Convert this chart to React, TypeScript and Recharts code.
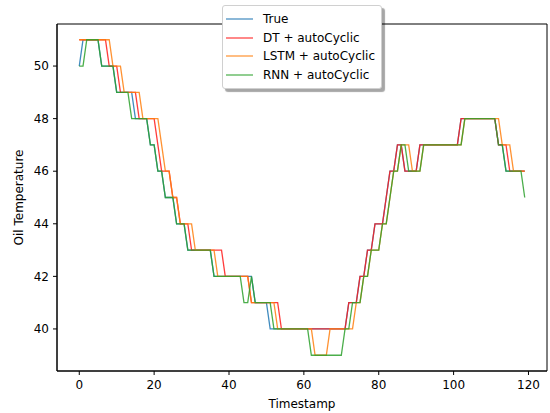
import React from "react";
import { LineChart, Line, XAxis, YAxis, ReferenceArea } from "recharts";

// Series values (Oil Temperature per timestamp)
const trueVals = [
  50, 51, 51, 51, 51, 51, 50, 50, 50, 50,
  49, 49, 49, 49, 49, 48, 48, 48, 48, 47,
  47, 46, 46, 45, 45, 45, 44, 44, 44, 43,
  43, 43, 43, 43, 43, 43, 42, 42, 42, 42,
  42, 42, 42, 42, 42, 42, 42, 41, 41, 41,
  41, 40, 40, 40, 40, 40, 40, 40, 40, 40,
  40, 40, 40, 40, 40, 40, 40, 40, 40, 40,
  40, 40, 41, 41, 41, 42, 42, 43, 43, 44,
  44, 44, 45, 46, 46, 47, 47, 46, 46, 46,
  46, 47, 47, 47, 47, 47, 47, 47, 47, 47,
  47, 47, 48, 48, 48, 48, 48, 48, 48, 48,
  48, 48, 47, 47, 46, 46, 46, 46, 46, 46,
];

const dtVals = [
  51, 51, 51, 51, 51, 51, 51, 51, 50, 50,
  50, 49, 49, 49, 49, 49, 48, 48, 48, 48,
  48, 47, 46, 46, 46, 45, 45, 44, 44, 44,
  43, 43, 43, 43, 43, 43, 43, 43, 43, 42,
  42, 42, 42, 42, 42, 42, 41, 41, 41, 41,
  41, 41, 41, 41, 40, 40, 40, 40, 40, 40,
  40, 40, 40, 40, 40, 40, 40, 40, 40, 40,
  40, 40, 41, 41, 41, 42, 42, 43, 43, 44,
  44, 44, 45, 46, 46, 47, 47, 46, 46, 46,
  46, 47, 47, 47, 47, 47, 47, 47, 47, 47,
  47, 47, 48, 48, 48, 48, 48, 48, 48, 48,
  48, 48, 47, 47, 47, 46, 46, 46, 46, 46,
];

const lstmVals = [
  51, 51, 51, 51, 51, 51, 51, 51, 51, 50,
  50, 50, 49, 49, 49, 49, 49, 48, 48, 48,
  48, 48, 47, 46, 46, 45, 45, 44, 44, 44,
  44, 43, 43, 43, 43, 43, 43, 42, 42, 42,
  42, 42, 42, 42, 42, 42, 41, 41, 41, 41,
  41, 41, 41, 40, 40, 40, 40, 40, 40, 40,
  40, 40, 40, 39, 39, 39, 39, 40, 40, 40,
  40, 40, 40, 40, 41, 41, 42, 42, 43, 43,
  43, 44, 44, 45, 46, 46, 47, 47, 47, 46,
  46, 46, 47, 47, 47, 47, 47, 47, 47, 47,
  47, 47, 47, 48, 48, 48, 48, 48, 48, 48,
  48, 48, 48, 47, 47, 47, 46, 46, 46, 46,
];

const rnnVals = [
  50, 50, 51, 51, 51, 51, 50, 50, 50, 50,
  49, 49, 49, 49, 48, 48, 48, 48, 48, 47,
  47, 46, 46, 45, 45, 45, 44, 44, 44, 43,
  43, 43, 43, 43, 43, 43, 42, 42, 42, 42,
  42, 42, 42, 42, 41, 41, 42, 41, 41, 41,
  41, 41, 40, 40, 40, 40, 40, 40, 40, 40,
  40, 40, 39, 39, 39, 39, 39, 39, 39, 39,
  39, 40, 40, 41, 41, 41, 42, 42, 43, 43,
  43, 44, 44, 45, 46, 46, 47, 47, 46, 46,
  46, 46, 47, 47, 47, 47, 47, 47, 47, 47,
  47, 47, 47, 48, 48, 48, 48, 48, 48, 48,
  48, 48, 47, 47, 46, 46, 46, 46, 46, 45,
];

const xTicks = [0, 20, 40, 60, 80, 100, 120];
const yTicks = [40, 42, 44, 46, 48, 50];

const series = [
  { key: "true", name: "True", color: "#1f77b4" },
  { key: "dt", name: "DT + autoCyclic", color: "#ff1a1a" },
  { key: "lstm", name: "LSTM + autoCyclic", color: "#ff7f0e" },
  { key: "rnn", name: "RNN + autoCyclic", color: "#2ca02c" },
];

const data = trueVals.map((v, i) => ({
  t: i,
  true: v,
  dt: dtVals[i],
  lstm: lstmVals[i],
  rnn: rnnVals[i],
}));

const FONT = "'DejaVu Sans', sans-serif";
const X_DOMAIN = [-5.95, 124.95];
const Y_DOMAIN = [38.4, 51.6];

// legend drawn as an overlay box (matplotlib style, with shadow)
const LegendBox = () => (
  <div
    style={{
      position: "absolute",
      left: 222,
      top: 5,
      background: "#fff",
      border: "1px solid #d0d0d0",
      borderRadius: 3,
      boxShadow: "3px 3px 1px rgba(0,0,0,0.35)",
      padding: "4px 6px 4px 3px",
      fontFamily: FONT,
      fontSize: 12,
      color: "#000",
    }}
  >
    {series.map((s) => (
      <div
        key={s.key}
        style={{ display: "flex", alignItems: "center", height: 18.6 }}
      >
        <svg width={27} height={4} style={{ marginRight: 10 }}>
          <line
            x1={0}
            y1={2}
            x2={27}
            y2={2}
            stroke={s.color}
            strokeOpacity={0.8}
            strokeWidth={1.3}
          />
        </svg>
        <span style={{ whiteSpace: "nowrap" }}>{s.name}</span>
      </div>
    ))}
  </div>
);

const App = () => {
  return (
    <div style={{ position: "absolute", left: 0, top: 0, width: 550, height: 413, background: "#fff" }}>
      <LineChart
        width={550}
        height={413}
        data={data}
        margin={{ top: 24, right: 3, bottom: 0, left: 0 }}
      >
        <ReferenceArea
          x1={X_DOMAIN[0]}
          x2={X_DOMAIN[1]}
          y1={Y_DOMAIN[0]}
          y2={Y_DOMAIN[1]}
          fill="none"
          stroke="#000"
          strokeWidth={1}
          ifOverflow="visible"
        />
        <XAxis
          dataKey="t"
          type="number"
          domain={X_DOMAIN}
          ticks={xTicks}
          allowDataOverflow
          height={42}
          tickSize={4}
          tickMargin={5}
          axisLine={{ stroke: "#000" }}
          tickLine={{ stroke: "#000" }}
          tick={{ fill: "#000", fontSize: 12, fontFamily: FONT }}
          label={{
            content: (props: any) => {
              const vb = props.viewBox;
              return (
                <text
                  x={vb.x + vb.width / 2}
                  y={vb.y + 37}
                  textAnchor="middle"
                  fill="#000"
                  fontSize={12}
                  fontFamily={FONT}
                >
                  Timestamp
                </text>
              );
            },
          }}
        />
        <YAxis
          type="number"
          domain={Y_DOMAIN}
          ticks={yTicks}
          allowDataOverflow
          width={57}
          tickSize={4}
          tickMargin={4}
          axisLine={{ stroke: "#000" }}
          tickLine={{ stroke: "#000" }}
          tick={{ fill: "#000", fontSize: 12, fontFamily: FONT }}
          label={{
            content: (props: any) => {
              const vb = props.viewBox;
              const cx = vb.x + 23;
              const cy = vb.y + vb.height / 2;
              return (
                <text
                  x={cx}
                  y={cy}
                  transform={`rotate(-90 ${cx} ${cy})`}
                  textAnchor="middle"
                  fill="#000"
                  fontSize={12}
                  fontFamily={FONT}
                >
                  Oil Temperature
                </text>
              );
            },
          }}
        />
        {series.map((s) => (
          <Line
            key={s.key}
            dataKey={s.key}
            name={s.name}
            type="linear"
            stroke={s.color}
            strokeOpacity={0.85}
            strokeWidth={1.3}
            dot={false}
            isAnimationActive={false}
          />
        ))}
      </LineChart>
      <LegendBox />
    </div>
  );
};

export default App;
